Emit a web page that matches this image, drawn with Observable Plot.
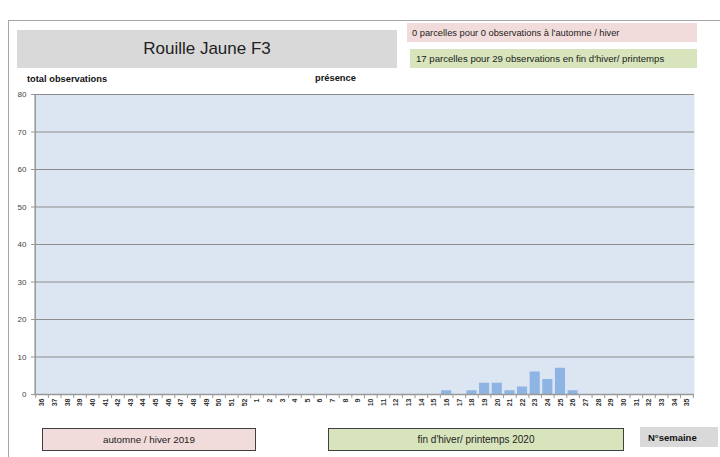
<!DOCTYPE html>
<html><head><meta charset="utf-8">
<script src="https://cdn.jsdelivr.net/npm/d3@7"></script>
<script src="https://cdn.jsdelivr.net/npm/@observablehq/plot@0.6"></script>
<style>
body{margin:0;background:#fff;font-family:"Liberation Sans",Arial,sans-serif;}
#wrap{position:relative;width:720px;height:457px;overflow:hidden;}
.box{position:absolute;display:flex;align-items:center;box-sizing:border-box;white-space:nowrap;}
#chart{position:absolute;left:0;top:0;}
</style></head><body>
<div id="wrap">
  <div class="box" style="left:8px;top:20px;width:720px;height:450px;border-top:1px solid #a6a6a6;border-left:1px solid #a6a6a6;"></div>
  <div id="chart"></div>
  <div class="box" id="title" style="left:17px;top:30px;width:380px;height:38px;background:#d9d9d9;justify-content:center;font-size:17px;color:#222;"></div>
  <div class="box" id="noteA" style="left:407px;top:23px;width:290px;height:19px;background:#f2dcdb;padding-left:5px;font-size:9.3px;color:#222;"></div>
  <div class="box" id="noteB" style="left:410px;top:49px;width:287px;height:19px;background:#d7e4bc;padding-left:6px;font-size:9.6px;color:#222;"></div>
  <div class="box" id="ylab" style="left:27px;top:73px;height:12px;font-size:9.3px;font-weight:bold;color:#111;"></div>
  <div class="box" id="plab" style="left:315px;top:72px;height:12px;font-size:9.3px;font-weight:bold;color:#111;"></div>
  <div class="box" id="perA" style="left:42px;top:428px;width:214px;height:23px;background:#f2dcdb;border:1px solid #404040;justify-content:center;font-size:9.8px;color:#222;"></div>
  <div class="box" id="perB" style="left:328px;top:428px;width:296px;height:23px;background:#d7e4bc;border:1px solid #404040;justify-content:center;font-size:10px;color:#222;"></div>
  <div class="box" id="xlab" style="left:640px;top:427px;width:78px;height:20px;background:#d9d9d9;padding-left:8px;font-size:9.5px;font-weight:bold;color:#111;"></div>
</div>
<script>
const title = "Rouille Jaune F3";
const noteAutumn = "0 parcelles pour 0 observations à l'automne / hiver";
const noteSpring = "17 parcelles pour 29 observations en fin d'hiver/ printemps";
const yTitle = "total observations";
const presence = "présence";
const periodAutumn = "automne / hiver 2019";
const periodSpring = "fin d'hiver/ printemps 2020";
const xTitle = "N°semaine";

const weeks = ["36","37","38","39","40","41","42","43","44","45","46","47","48","49","50","51","52",
  "1","2","3","4","5","6","7","8","9","10","11","12","13","14","15","16","17","18","19","20",
  "21","22","23","24","25","26","27","28","29","30","31","32","33","34","35"];
const counts = [0,0,0,0,0,0,0,0,0,0,0,0,0,0,0,0,0,
  0,0,0,0,0,0,0,0,0,0,0,0,0,0,0,1,0,1,3,3,
  1,2,6,4,7,1,0,0,0,0,0,0,0,0,0];
const yTicks = [0,10,20,30,40,50,60,70,80];

document.getElementById("title").textContent = title;
document.getElementById("noteA").textContent = noteAutumn;
document.getElementById("noteB").textContent = noteSpring;
document.getElementById("ylab").textContent = yTitle;
document.getElementById("plab").textContent = presence;
document.getElementById("perA").textContent = periodAutumn;
document.getElementById("perB").textContent = periodSpring;
document.getElementById("xlab").textContent = xTitle;

const data = weeks.map((w, i) => ({week: w, n: counts[i]}));
const mL = 34, mR = 26, W = 720;
const step = (W - mL - mR) / weeks.length;

const chart = Plot.plot({
  width: W, height: 420,
  marginLeft: mL, marginRight: mR, marginTop: 94, marginBottom: 26,
  style: {fontFamily: "Liberation Sans, Arial, sans-serif", background: "transparent"},
  x: {domain: weeks, padding: 0.2, align: 0.5, axis: null},
  y: {domain: [0, 80], axis: null},
  marks: [
    Plot.frame({fill: "#dce6f2", stroke: null}),
    Plot.ruleY(yTicks.filter(d => d > 0), {stroke: "#8c8c8c", strokeWidth: 1.2}),
    Plot.barY(data, {x: "week", y: "n", fill: "#8db4e2"}),
    Plot.axisY({ticks: yTicks, tickSize: 3, tickPadding: 5, fontSize: 8, color: "#444", stroke: "#999", label: null}),
    Plot.ruleX(weeks, {x: d => d, y1: 0, y2: -1.1, dx: -step / 2, stroke: "#999"}),
    Plot.ruleX(weeks.slice(-1), {x: d => d, y1: 0, y2: -1.1, dx: step / 2, stroke: "#999"}),
    Plot.ruleY([0], {stroke: "#999", strokeWidth: 1.5}),
    Plot.ruleX([weeks[0]], {x: d => d, y1: 0, y2: 80, dx: -step / 2 - 0.5, stroke: "#999", strokeWidth: 1.5}),
    Plot.axisX({tickSize: 0, tickPadding: 4, tickRotate: -90, fontSize: 7, fontWeight: "bold", color: "#333", label: null})
  ]
});
document.getElementById("chart").appendChild(chart);
</script>
</body></html>
